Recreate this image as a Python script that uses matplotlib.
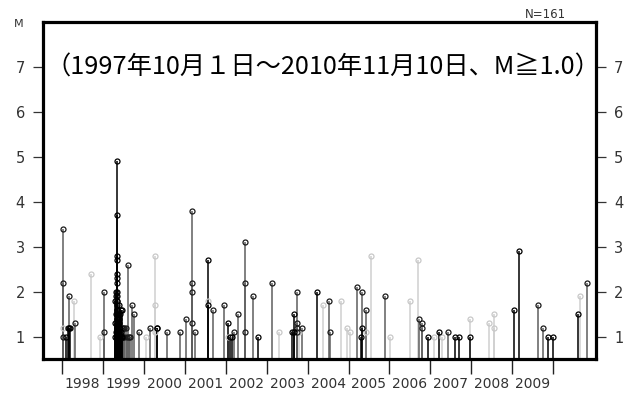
import matplotlib
matplotlib.use("Agg")
import matplotlib.pyplot as plt
import numpy as np

# ---- data (decimal year, magnitude, depth class: k=black, d=dark gray, l=light gray) ----
years = [
    1998.024, 1998.039, 1998.039, 1998.039, 1998.105, 1998.154, 1998.171, 1998.190, 1998.203,
    1998.308, 1998.332, 1998.715, 1998.935, 1999.040, 1999.040,
    # 1999 swarm
    1999.342, 1999.342, 1999.342, 1999.342, 1999.342, 1999.342, 1999.342, 1999.342, 1999.342,
    1999.342, 1999.342, 1999.342, 1999.342, 1999.342, 1999.342, 1999.342, 1999.342, 1999.342,
    1999.313, 1999.313, 1999.313, 1999.325, 1999.325, 1999.325, 1999.325,
    1999.357, 1999.357, 1999.357, 1999.357, 1999.357, 1999.374, 1999.374, 1999.374, 1999.374,
    1999.391, 1999.391, 1999.391, 1999.391, 1999.406, 1999.406, 1999.406, 1999.423, 1999.423,
    1999.423, 1999.440, 1999.440, 1999.440, 1999.464, 1999.464, 1999.484, 1999.484, 1999.508,
    1999.508, 1999.530, 1999.530,
    # after swarm
    1999.569, 1999.606, 1999.626, 1999.643, 1999.667, 1999.709, 1999.772, 1999.879,
    2000.050, 2000.155, 2000.277, 2000.277, 2000.277, 2000.314, 2000.338, 2000.563, 2000.895,
    2001.034, 2001.173, 2001.173, 2001.173, 2001.173, 2001.253, 2001.564, 2001.564, 2001.564,
    2001.693, 2001.954, 2002.059, 2002.066, 2002.108, 2002.149, 2002.205, 2002.310,
    2002.481, 2002.481, 2002.481, 2002.677, 2002.791, 2003.133, 2003.297, 2003.633, 2003.663,
    2003.663, 2003.736, 2003.736, 2003.736, 2003.736, 2003.799, 2003.865, 2004.224, 2004.385,
    2004.517, 2004.556, 2004.825, 2004.956, 2005.037, 2005.200, 2005.305, 2005.318, 2005.337,
    2005.420, 2005.435, 2005.542, 2005.891, 2006.006, 2006.509, 2006.704, 2006.721, 2006.801,
    2006.801, 2006.933, 2007.075, 2007.209, 2007.270, 2007.429, 2007.595, 2007.697, 2007.966,
    2007.966, 2008.437, 2008.559, 2008.559, 2009.033, 2009.162, 2009.633, 2009.755, 2009.870,
    2009.984, 2010.601, 2010.650, 2010.814,
]
mags = [
    1.2, 3.4, 2.2, 1.0, 1.0, 1.2, 1.9, 1.2, 1.2,
    1.8, 1.3, 2.4, 1.0, 2.0, 1.1,
    # 1999 swarm
    4.9, 3.7, 2.8, 2.7, 2.4, 2.3, 2.2, 2.0, 1.9,
    1.8, 1.7, 1.6, 1.5, 1.4, 1.3, 1.2, 1.1, 1.0,
    1.0, 1.3, 1.8, 1.1, 1.5, 1.9, 2.0,
    1.0, 1.2, 1.4, 1.6, 1.8, 1.0, 1.1, 1.3, 1.5,
    1.0, 1.2, 1.4, 1.7, 1.0, 1.1, 1.3, 1.0, 1.2,
    1.5, 1.0, 1.1, 1.6, 1.0, 1.6, 1.0, 1.2, 1.0,
    1.2, 1.0, 1.2,
    # after swarm
    1.2, 1.0, 2.6, 1.0, 1.0, 1.7, 1.5, 1.1,
    1.0, 1.2, 2.8, 1.7, 1.1, 1.2, 1.2, 1.1, 1.1,
    1.4, 3.8, 2.2, 2.0, 1.3, 1.1, 2.7, 1.7, 1.8,
    1.6, 1.7, 1.0, 1.3, 1.0, 1.0, 1.1, 1.5,
    3.1, 2.2, 1.1, 1.9, 1.0, 2.2, 1.1, 1.1, 1.5,
    1.1, 2.0, 1.3, 1.2, 1.1, 1.1, 1.2, 2.0, 1.7,
    1.8, 1.1, 1.8, 1.2, 1.1, 2.1, 1.0, 1.2, 2.0,
    1.6, 1.1, 2.8, 1.9, 1.0, 1.8, 2.7, 1.4, 1.3,
    1.2, 1.0, 1.0, 1.1, 1.0, 1.1, 1.0, 1.0, 1.4,
    1.0, 1.3, 1.5, 1.2, 1.6, 2.9, 1.7, 1.2, 1.0,
    1.0, 1.5, 1.9, 2.2,
]
depth = [
    'l', 'd', 'd', 'd', 'k', 'k', 'd', 'k', 'k',
    'l', 'd', 'l', 'l', 'd', 'd',
    'k', 'k', 'k', 'k', 'k', 'k', 'k', 'k', 'k',
    'k', 'k', 'k', 'k', 'k', 'k', 'k', 'k', 'k',
    'k', 'k', 'k', 'k', 'k', 'k', 'k',
    'k', 'k', 'k', 'k', 'k', 'k', 'k', 'k', 'k',
    'k', 'k', 'k', 'k', 'k', 'k', 'k', 'k', 'k',
    'k', 'k', 'k', 'k', 'k', 'k', 'd', 'd', 'd',
    'd', 'd', 'd',
    'd', 'd', 'd', 'd', 'd', 'd', 'd', 'd',
    'l', 'd', 'l', 'l', 'l', 'k', 'k', 'd', 'd',
    'd', 'd', 'd', 'd', 'd', 'd', 'k', 'k', 'l',
    'd', 'd', 'l', 'k', 'k', 'k', 'd', 'd',
    'd', 'd', 'd', 'd', 'k', 'd', 'l', 'k', 'k',
    'k', 'd', 'd', 'd', 'd', 'l', 'd', 'k', 'l',
    'd', 'd', 'l', 'l', 'l', 'd', 'k', 'k', 'd',
    'd', 'l', 'l', 'd', 'l', 'l', 'l', 'd', 'd',
    'd', 'k', 'l', 'k', 'l', 'd', 'k', 'k', 'l',
    'k', 'l', 'l', 'l', 'k', 'k', 'd', 'd', 'k',
    'k', 'k', 'l', 'd',
]
year_labels = [str(y) for y in range(1998, 2010)]
ytick_vals = [1, 2, 3, 4, 5, 6, 7]
title_text = "（1997年10月１日～2010年11月10日、M≧1.0）"
count_text = "N=161"

stem_col = {'k': '#000000', 'd': '#5e5e5e', 'l': '#cfcfcf'}
mark_col = {'k': '#000000', 'd': '#1a1a1a', 'l': '#c8c8c8'}

W, H = 636, 394
fig = plt.figure(figsize=(W / 100, H / 100), dpi=100)
ax = fig.add_axes([43 / W, 1 - 359 / H, (596 - 43) / W, (359 - 22) / H])

ymin, ymax = 0.5, 8.0
ax.set_xlim(1997.544, 2011.04)
ax.set_ylim(ymin, ymax)

# stems: light first, then dark, then black
for cls in ['l', 'd', 'k']:
    xs = [x for x, c in zip(years, depth) if c == cls]
    ms = [m for m, c in zip(mags, depth) if c == cls]
    ax.vlines(xs, ymin, ms, colors=stem_col[cls], linewidth=1.1, zorder=2)
for cls in ['l', 'd', 'k']:
    xs = [x for x, c in zip(years, depth) if c == cls]
    ms = [m for m, c in zip(mags, depth) if c == cls]
    ax.plot(xs, ms, linestyle='none', marker='o', markersize=3.6,
            markerfacecolor='none', markeredgecolor=mark_col[cls],
            markeredgewidth=0.9, zorder=3)

for s in ax.spines.values():
    s.set_linewidth(2.3)
    s.set_color('black')

# y axis ticks on both sides
ax.set_yticks(ytick_vals)
ax.set_yticklabels([str(v) for v in ytick_vals])
ax.tick_params(axis='y', which='major', direction='out', length=7.5, width=0.9,
               left=True, right=True, labelleft=True, labelright=True,
               labelsize=10.5, pad=5.5, colors='#333333')

# x axis: long ticks at year boundaries, labels at mid-year
ax.set_xticks(list(range(1998, 2011)))
ax.set_xticklabels([])
ax.set_xticks([y + 0.5 for y in range(1998, 2010)], minor=True)
ax.set_xticklabels(year_labels, minor=True)
ax.tick_params(axis='x', which='major', direction='out', length=11, width=1.0,
               colors='#222222')
ax.tick_params(axis='x', which='minor', length=0, pad=13, labelsize=10,
               labelcolor='#333333')

ax.text(0.506, (359 - 68) / 337, title_text, transform=ax.transAxes,
        ha='center', va='center', fontsize=18.2,
        family=['Noto Sans CJK JP', 'DejaVu Sans'], color='black')

fig.text(19 / W, 1 - 24 / H, "M", ha='center', va='center', fontsize=8, color='#333333')
fig.text(545 / W, 1 - 14 / H, count_text, ha='center', va='center', fontsize=8.5,
         color='#333333')

fig.savefig("out.png", dpi=100)
